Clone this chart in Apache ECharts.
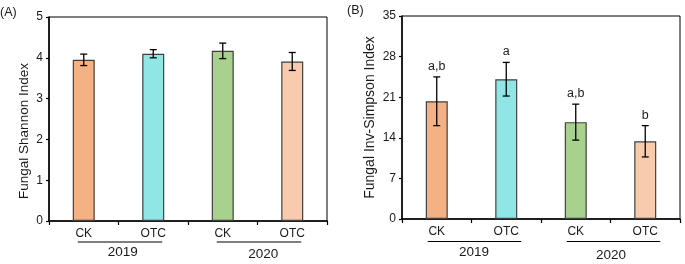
<!DOCTYPE html>
<html><head><meta charset="utf-8">
<script src="https://cdn.jsdelivr.net/npm/echarts@6/dist/echarts.min.js"></script>
<style>html,body{margin:0;padding:0;background:#fff}#c{width:685px;height:264px}</style>
</head><body><div id="c"></div>
<script>
// ---- data ----
const categories = ['CK', 'OTC', 'CK', 'OTC'];
const years = ['2019', '2020'];
const yearGroups = [[0, 1, 0], [2, 3, 1]]; // [firstCategory, lastCategory, yearIndex]
const shannonMean = [3.95, 4.10, 4.17, 3.91];
const shannonErr = [0.14, 0.10, 0.19, 0.22];
const invSimpsonMean = [20.3, 24.1, 16.7, 13.4];
const invSimpsonErr = [4.2, 2.9, 3.1, 2.7];
const invSimpsonLetters = ['a,b', 'a', 'a,b', 'b'];
const shannonAxis = [0, 5, 1];       // min, max, interval
const invSimpsonAxis = [0, 35, 7];
const panelTags = ['(A)', '(B)'];
const yTitles = ['Fungal Shannon Index', 'Fungal Inv-Simpson Index'];

// ---- style ----
const FONT = '"Liberation Sans", Arial, sans-serif';
const barColors = ['#F4B183', '#8FE6E4', '#A9D18E', '#F8CBAD'];
const TXT = '#1a1a1a';

const panels = [
  { grid: { left: 49, top: 17, width: 278, height: 204 }, axis: shannonAxis, mean: shannonMean, err: shannonErr, letters: null,
    title: yTitles[0], nameGap: 18, nameSize: 13.5, namePad: [0, 24, 0, 0],
    yr: { lineDy: 21, l: -6, r: 9, textDy: [31, 33.5], textDx: [4.3, 5.7] } },
  { grid: { left: 402, top: 16, width: 278, height: 203 }, axis: invSimpsonAxis, mean: invSimpsonMean, err: invSimpsonErr, letters: invSimpsonLetters,
    title: yTitles[1], nameGap: 25, nameSize: 14, namePad: [0, 0, 0, 0],
    yr: { lineDy: 22.5, l: -9, r: 15, textDy: [33.5, 36], textDx: [2.5, 0.5] } }
];

const grid = [], xAxis = [], yAxis = [], series = [];
panels.forEach((p, k) => {
  grid.push(Object.assign({ show: true, borderColor: '#000', borderWidth: 1, backgroundColor: 'transparent' }, p.grid));
  xAxis.push({
    type: 'category', gridIndex: k, data: categories, boundaryGap: true,
    axisLine: { lineStyle: { color: '#000', width: 1.5 } },
    axisTick: { show: true, inside: false, length: 4, lineStyle: { color: '#000', width: 1.2 } },
    axisLabel: { color: TXT, fontFamily: FONT, fontSize: 12, margin: 7 },
    splitLine: { show: false }
  });
  yAxis.push({
    type: 'value', gridIndex: k, min: p.axis[0], max: p.axis[1], interval: p.axis[2],
    name: p.title, nameLocation: 'middle', nameGap: p.nameGap, nameRotate: 90,
    nameTextStyle: { color: TXT, fontFamily: FONT, fontSize: p.nameSize, padding: p.namePad },
    axisLine: { show: true, lineStyle: { color: '#000', width: 1.5 } },
    axisTick: { show: true, inside: false, length: 3, lineStyle: { color: '#000', width: 1.2 } },
    axisLabel: { color: TXT, fontFamily: FONT, fontSize: 12, margin: 6 },
    splitLine: { show: false }
  });
  series.push({
    type: 'bar', xAxisIndex: k, yAxisIndex: k, barWidth: 22,
    data: p.mean.map((v, i) => ({ value: v, itemStyle: { color: barColors[i] } })),
    itemStyle: { borderColor: '#404040', borderWidth: 1.2 },
    silent: true, animation: false
  });
  const letters = p.letters;
  series.push({
    type: 'custom', xAxisIndex: k, yAxisIndex: k, clip: false, animation: false, silent: true, z: 5,
    data: p.mean.map((v, i) => [i, v, p.err[i]]),
    encode: { x: 0, y: 1 },
    renderItem: function (params, api) {
      const i = api.value(0), m = api.value(1), e = api.value(2);
      const t = api.coord([i, m + e]), b = api.coord([i, m - e]);
      const hw = 3.5, st = { stroke: '#000', lineWidth: 1.3 };
      const ch = [
        { type: 'line', shape: { x1: t[0], y1: t[1], x2: b[0], y2: b[1] }, style: st },
        { type: 'line', shape: { x1: t[0] - hw, y1: t[1], x2: t[0] + hw, y2: t[1] }, style: st },
        { type: 'line', shape: { x1: b[0] - hw, y1: b[1], x2: b[0] + hw, y2: b[1] }, style: st }
      ];
      if (letters) ch.push({ type: 'text', x: t[0], y: t[1] - 4,
        style: { text: letters[params.dataIndex], textAlign: 'center', textVerticalAlign: 'bottom', fill: TXT, fontSize: 12.5, fontFamily: FONT } });
      return { type: 'group', children: ch };
    }
  });
  const yr = p.yr;
  series.push({
    type: 'custom', xAxisIndex: k, yAxisIndex: k, clip: false, animation: false, silent: true,
    data: yearGroups, encode: { x: 0, y: 1 },
    renderItem: function (params, api) {
      const s = api.value(0), e = api.value(1), yi = api.value(2);
      const a = api.coord([s, p.axis[0]]), c = api.coord([e, p.axis[0]]);
      const mid = (a[0] + c[0]) / 2;
      return { type: 'group', children: [
        { type: 'line', shape: { x1: a[0] + yr.l, y1: a[1] + yr.lineDy, x2: c[0] + yr.r, y2: a[1] + yr.lineDy }, style: { stroke: '#000', lineWidth: 1.2 } },
        { type: 'text', x: mid + yr.textDx[yi], y: a[1] + yr.textDy[yi],
          style: { text: years[yi], textAlign: 'center', textVerticalAlign: 'middle', fill: TXT, fontSize: 13.5, fontFamily: FONT } }
      ] };
    }
  });
});

const chart = echarts.init(document.getElementById('c'), null, { renderer: 'canvas' });
chart.setOption({
  animation: false,
  backgroundColor: '#fff',
  title: [
    { text: panelTags[0], left: 0, top: 6, textStyle: { fontFamily: FONT, fontSize: 12.5, fontWeight: 'normal', color: TXT }, padding: 0 },
    { text: panelTags[1], left: 347, top: 4, textStyle: { fontFamily: FONT, fontSize: 12.5, fontWeight: 'normal', color: TXT }, padding: 0 }
  ],
  grid, xAxis, yAxis, series
});
</script></body></html>
